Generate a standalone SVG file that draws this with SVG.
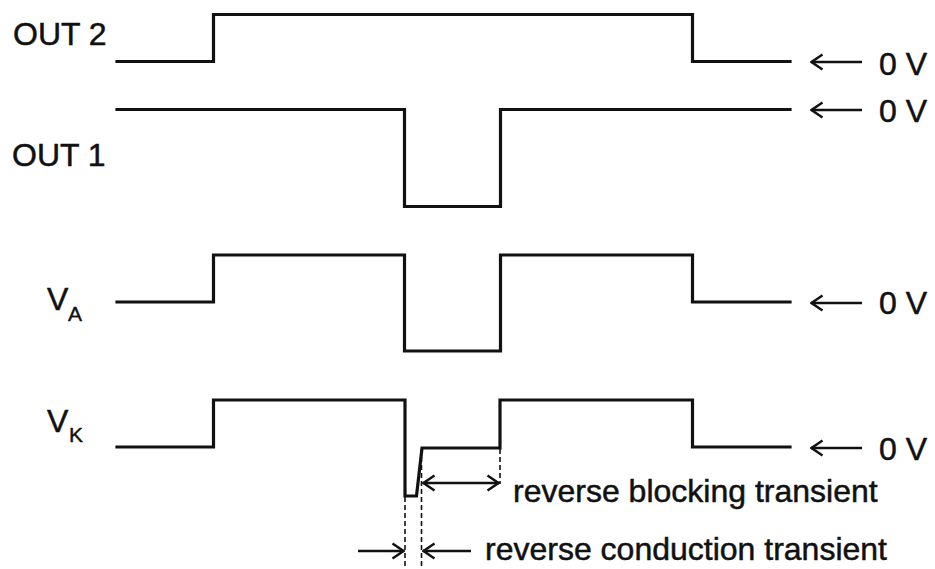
<svg xmlns="http://www.w3.org/2000/svg" width="935" height="569" viewBox="0 0 935 569">
<defs>
<style>
.w{fill:none;stroke:#111;stroke-width:3.2;stroke-linejoin:miter;stroke-linecap:square}
.d{fill:none;stroke:#111;stroke-width:1.6;stroke-dasharray:5 3}
.a{fill:none;stroke:#111;stroke-width:2.4}
.t{font-family:"Liberation Sans",Arial,sans-serif;font-size:32px;fill:#111;stroke:#111;stroke-width:0.5}
.s{font-family:"Liberation Sans",Arial,sans-serif;font-size:21px;fill:#111;stroke:#111;stroke-width:0.4}
</style>
<marker id="ah" viewBox="0 0 14 18" refX="13" refY="9" markerWidth="14" markerHeight="18" markerUnits="userSpaceOnUse" orient="auto-start-reverse">
<path d="M1.5,1.5 L12.5,9 L1.5,16.5" fill="none" stroke="#111" stroke-width="2.4"/>
</marker>
</defs>
<rect width="935" height="569" fill="#fff"/>
<g id="out2">
<path class="w" d="M117,61.5 H213.5 V14.5 H692.5 V61.5 H790"/>
<text class="t" x="13" y="45">OUT 2</text>
</g>
<g id="out1">
<path class="w" d="M117,109.5 H404.5 V206.5 H500.5 V109.5 H790"/>
<text class="t" x="12" y="166">OUT 1</text>
</g>
<g id="va">
<path class="w" d="M117,302 H213.5 V255 H404.5 V351 H500.5 V255 H692.5 V302 H790"/>
<text class="t" x="47" y="310">V</text><text class="s" x="68" y="321">A</text>
</g>
<g id="vk">
<path class="w" d="M117,447 H213.5 V400 H405 V496 H416.5 L422,448 H500 V400 H692.5 V447 H790"/>
<text class="t" x="47" y="432">V</text><text class="s" x="69" y="442">K</text>
</g>
<g id="zero">
<text class="t" x="879" y="75">0 V</text>
<text class="t" x="879" y="122">0 V</text>
<text class="t" x="879" y="314">0 V</text>
<text class="t" x="879" y="460">0 V</text>
</g>
<g id="connectors">
<line class="a" x1="862" y1="62" x2="811" y2="62" marker-end="url(#ah)"/>
<line class="a" x1="862" y1="110" x2="811" y2="110" marker-end="url(#ah)"/>
<line class="a" x1="862" y1="303" x2="811" y2="303" marker-end="url(#ah)"/>
<line class="a" x1="862" y1="448" x2="811" y2="448" marker-end="url(#ah)"/>
<line class="d" x1="405" y1="497" x2="405" y2="569"/>
<line class="d" x1="421.5" y1="449" x2="421.5" y2="569"/>
<line class="d" x1="500" y1="449" x2="500" y2="484"/>
<line class="a" x1="423" y1="483" x2="499" y2="483" marker-start="url(#ah)" marker-end="url(#ah)"/>
<line class="a" x1="358" y1="551" x2="404" y2="551" marker-end="url(#ah)"/>
<line class="a" x1="471" y1="551" x2="423" y2="551" marker-end="url(#ah)"/>
</g>
<g id="labels">
<text class="t" x="513" y="502">reverse blocking transient</text>
<text class="t" x="485" y="560">reverse conduction transient</text>
</g>
</svg>
